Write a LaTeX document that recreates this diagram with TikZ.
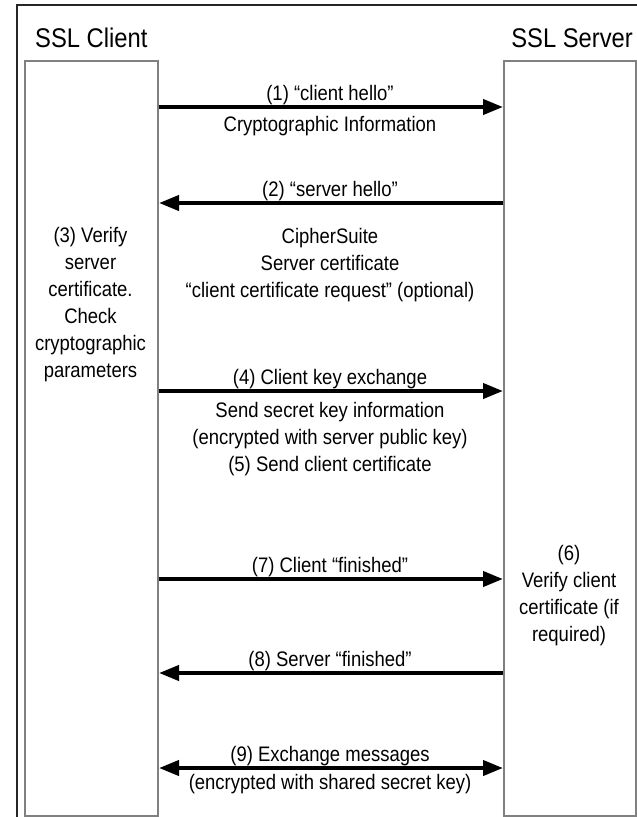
\documentclass[tikz,border=0pt]{standalone}
\usepackage{fontspec}
\setmainfont{Liberation Sans}[FakeStretch=0.88]
\usetikzlibrary{arrows.meta}
\begin{document}
\begin{tikzpicture}[x=1pt,y=-1pt,
  lane/.style={draw=black!50, line width=2pt, inner sep=0pt, anchor=north west},
  frame/.style={draw=black!85, line width=1.5pt},
  title/.style={font=\fontsize{27}{32}\selectfont, inner sep=0pt},
  lbl/.style={font=\fontsize{21}{27}\selectfont, inner sep=0pt, align=center, anchor=base},
  msg/.style={line width=4pt, -{Triangle[length=20pt,width=15pt]}},
  msgboth/.style={line width=4pt, {Triangle[length=20pt,width=15pt]}-{Triangle[length=20pt,width=15pt]}}]
\useasboundingbox (0,0) rectangle (637,817);
\fill[white] (0,0) rectangle (637,817);
\draw[frame] (17,817) -- (17,5) -- (637,5);
\node[lane, minimum width=133pt, minimum height=755pt] (client) at (24,60) {};
\node[lane, minimum width=132pt, minimum height=755pt] (server) at (503,60) {};
\node[title, anchor=base west] (tc) at (35,47) {SSL Client};
\node[title, anchor=base east] (ts) at (633,47) {SSL Server};
% message levels
\coordinate (y1) at (0,107);
\coordinate (y2) at (0,203);
\coordinate (y4) at (0,391);
\coordinate (y7) at (0,579);
\coordinate (y8) at (0,673);
\coordinate (y9) at (0,768);
\draw[msg] (client.east |- y1) -- (server.west |- y1);
\draw[msg] (server.west |- y2) -- (client.east |- y2);
\draw[msg] (client.east |- y4) -- (server.west |- y4);
\draw[msg] (client.east |- y7) -- (server.west |- y7);
\draw[msg] (server.west |- y8) -- (client.east |- y8);
\draw[msgboth] (client.east |- y9) -- (server.west |- y9);
% labels (multi-line nodes: base = baseline of last line)
\node[lbl] (l1a) at (330,100.5) {(1) “client hello”};
\node[lbl] (l1b) at (330,131) {Cryptographic Information};
\node[lbl] (l2a) at (330,196.5) {(2) “server hello”};
\node[lbl] (l2b) at (330,297.5) {CipherSuite\\Server certificate\\“client certificate request” (optional)};
\node[lbl] (l3) at (90.5,377.5) {(3) Verify\\server\\certificate.\\Check\\cryptographic\\parameters};
\node[lbl] (l4a) at (330,384.5) {(4) Client key exchange};
\node[lbl] (l4b) at (330,471.5) {Send secret key information\\(encrypted with server public key)\\(5) Send client certificate};
\node[lbl] (l6) at (569,641.5) {(6)\\Verify client\\certificate (if\\required)};
\node[lbl] (l7) at (330,572.5) {(7) Client “finished”};
\node[lbl] (l8) at (330,666.5) {(8) Server “finished”};
\node[lbl] (l9a) at (330,761.5) {(9) Exchange messages};
\node[lbl] (l9b) at (330,789.5) {(encrypted with shared secret key)};
\end{tikzpicture}
\end{document}
